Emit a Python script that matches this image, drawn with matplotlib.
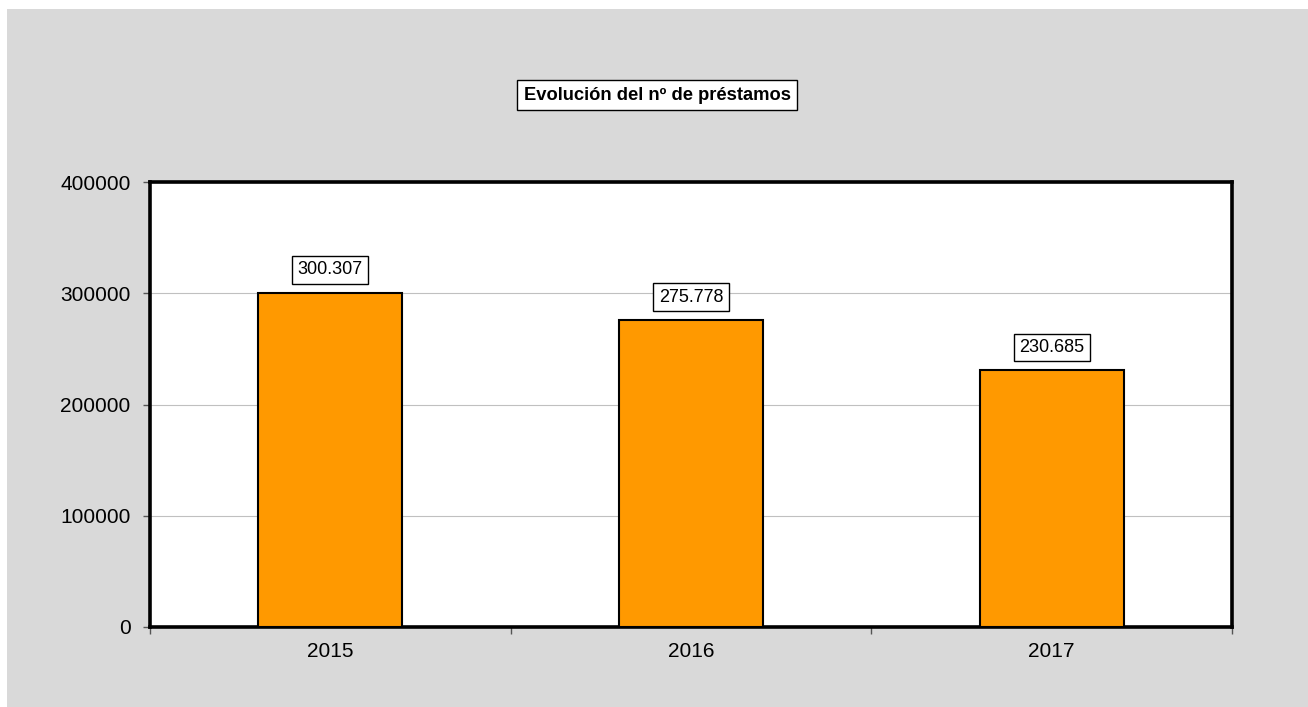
import matplotlib
matplotlib.use("Agg")
import matplotlib.pyplot as plt
from matplotlib.patches import Rectangle
from matplotlib.ticker import FixedLocator

categories = ["2015", "2016", "2017"]
values = [300307, 275778, 230685]
value_labels = ["300.307", "275.778", "230.685"]
yticks = [0, 100000, 200000, 300000, 400000]
title = "Evolución del nº de préstamos"

plt.rcParams['font.family'] = ['Liberation Sans', 'DejaVu Sans']

fig = plt.figure(figsize=(13.08, 7.07), dpi=100)
fig.patch.set_facecolor('white')
fig.patches.append(Rectangle((7/1308, 0), 1 - 7/1308, 1 - 9/707,
                             transform=fig.transFigure, facecolor='#d9d9d9',
                             edgecolor='none', zorder=-10))

ax = fig.add_axes([150/1308, 1 - 627/707, (1232-150)/1308, (627-182)/707])
ax.set_facecolor('white')
x = list(range(len(categories)))
ax.bar(x, values, width=0.4, color='#ff9900', edgecolor='black', linewidth=1.5, zorder=3)
ax.set_xlim(-0.5, len(categories) - 0.5)
ax.set_ylim(0, 400000)
ax.set_yticks(yticks)
ax.set_yticklabels([str(v) for v in yticks])
ax.set_xticks(x)
ax.set_xticklabels(categories)
ax.xaxis.set_minor_locator(FixedLocator([i - 0.5 for i in range(len(categories) + 1)]))
ax.tick_params(axis='x', which='major', length=0, pad=11, labelsize=15)
ax.tick_params(axis='x', which='minor', length=5, width=1, color='#555555', direction='out')
ax.tick_params(axis='y', length=5, width=1, color='#555555', pad=9, labelsize=15)
ax.grid(axis='y', color='#c0c0c0', linewidth=0.8, zorder=0)
ax.set_axisbelow(True)
for s in ax.spines.values():
    s.set_linewidth(2.6)
    s.set_color('black')

for xi, v, lab in zip(x, values, value_labels):
    ax.annotate(lab, (xi, v), xytext=(0, 16.5), textcoords='offset points',
                ha='center', va='center', fontsize=13,
                bbox=dict(boxstyle='square,pad=0.3', facecolor='white', edgecolor='black', linewidth=1))

fig.text(657/1308, 1 - 95/707, title, ha='center', va='center', fontsize=13.2, fontweight='bold',
         bbox=dict(boxstyle='square,pad=0.33', facecolor='white', edgecolor='black', linewidth=1))

fig.savefig('out.png', dpi=100, facecolor=fig.get_facecolor())
